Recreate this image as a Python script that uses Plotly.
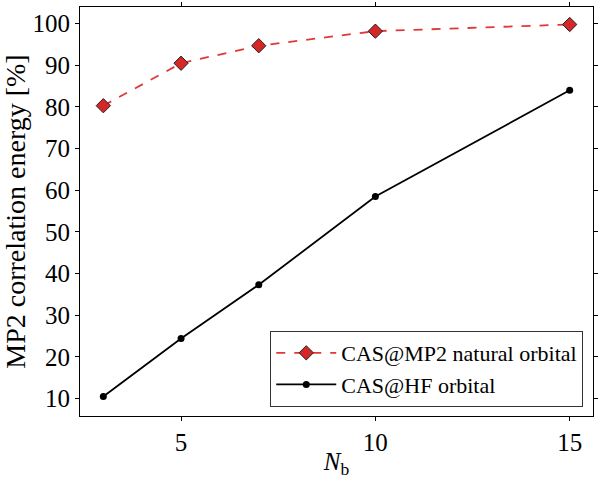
import plotly.graph_objects as go

nb = [3, 5, 7, 10, 15]
mp2_natural = [80.3, 90.5, 94.7, 98.2, 99.8]
hf_orbital = [10.5, 24.4, 37.3, 58.5, 84.0]
series_names = ["CAS@MP2 natural orbital", "CAS@HF orbital"]
x_ticks = [5, 10, 15]
y_ticks = [10, 20, 30, 40, 50, 60, 70, 80, 90, 100]

FONT = "Liberation Serif"

fig = go.Figure()
fig.add_trace(go.Scatter(
    x=nb, y=mp2_natural, name=series_names[0], mode="lines+markers",
    line=dict(color="#e03838", width=1.8, dash="dash"),
    marker=dict(symbol="diamond", size=11, color="#d62728",
                line=dict(color="#222222", width=1)),
))
fig.add_trace(go.Scatter(
    x=nb, y=hf_orbital, name=series_names[1], mode="lines+markers",
    line=dict(color="black", width=1.8),
    marker=dict(symbol="circle", size=7, color="black"),
))

axis_common = dict(
    showgrid=False, zeroline=False, showline=True, linecolor="black",
    linewidth=1.2, mirror="allticks", ticks="outside", ticklen=4,
    tickwidth=1, tickcolor="black",
    tickfont=dict(family=FONT, size=25, color="black"),
)

fig.update_layout(
    width=600, height=479,
    margin=dict(l=80, r=3, t=2, b=58),
    paper_bgcolor="white", plot_bgcolor="white",
    font=dict(family=FONT, color="black"),
    xaxis=dict(range=[2.4, 15.6], tickvals=x_ticks,
               title=dict(text="<i>N</i><sub>b</sub>",
                          font=dict(family=FONT, size=25), standoff=3),
               **axis_common),
    yaxis=dict(range=[5.8, 104.0], tickvals=y_ticks,
               title=dict(text="MP2 correlation energy [%]",
                          font=dict(family=FONT, size=28), standoff=3),
               **axis_common),
    legend=dict(x=0.981, y=0.022, xanchor="right", yanchor="bottom",
                bgcolor="white", bordercolor="#333333", borderwidth=1,
                font=dict(family=FONT, size=22, color="black"),
                itemwidth=60, tracegroupgap=2),
    showlegend=True,
)

fig.write_html("out.html")
